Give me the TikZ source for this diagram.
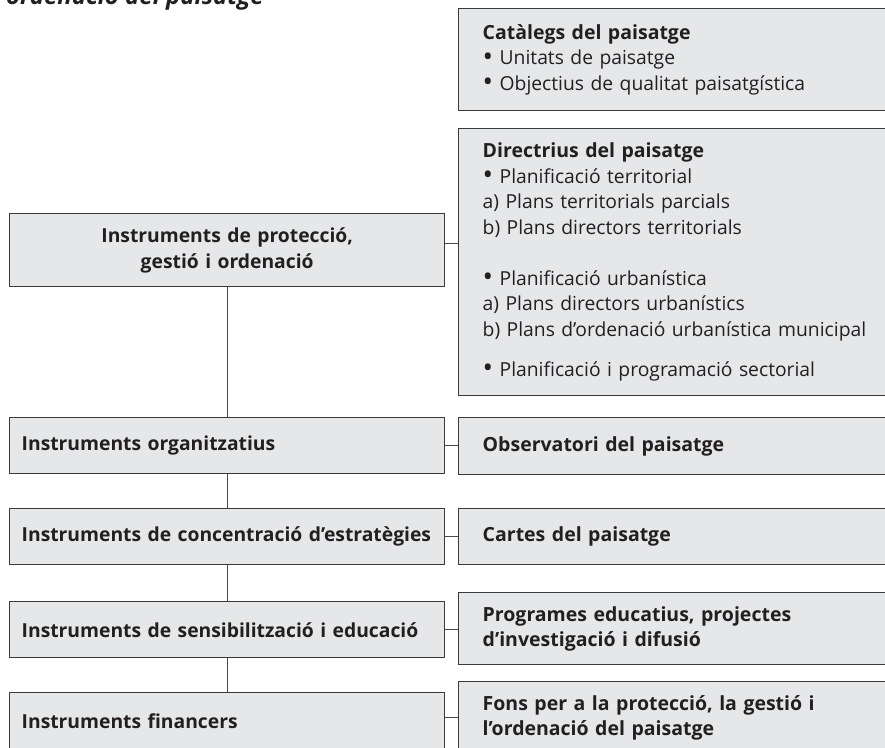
\documentclass[tikz,border=0pt]{standalone}
\usepackage{fontspec}
\setmainfont{Open Sans}
\definecolor{boxfill}{HTML}{E6E7E8}
\definecolor{boxline}{HTML}{3A3A3A}
\definecolor{linkcol}{HTML}{4A4A4A}
\definecolor{txt}{HTML}{231F20}
\newcommand{\bul}{\raisebox{-0.06em}{\scalebox{1.45}{•}}}
\begin{document}
\begin{tikzpicture}[x=1pt,y=-1pt,
  box/.style={draw=boxline, fill=boxfill, line width=1.4pt, rectangle, inner ysep=0pt, anchor=north west, text=txt},
  lbox/.style={box, minimum width=435pt, inner xsep=12pt, text width=411pt, align=left, font=\fontsize{19.3}{25.5}\selectfont\bfseries},
  rbox/.style={box, minimum width=440pt, inner xsep=24pt, text width=392pt, align=left, font=\fontsize{19.3}{25.5}\selectfont},
  rbold/.style={rbox, font=\fontsize{19.5}{25.5}\selectfont\bfseries},
  link/.style={draw=linkcol, line width=1pt}]
\useasboundingbox (0,0) rectangle (885,747);
\clip (0,0) rectangle (885,747);
\fill[white] (0,0) rectangle (885,747);
% title (cut at top)
\node[anchor=base west, inner sep=0pt, text=txt, font=\fontsize{24}{28}\selectfont\bfseries\itshape] (title) at (6,4.5) {ordenació del paisatge};
% left column
\node[lbox, minimum height=73pt, align=center] (prot) at (9,213) {Instruments de protecció,\\ gestió i ordenació};
\node[lbox, minimum height=56pt] (org) at (9,417) {Instruments organitzatius};
\node[lbox, minimum height=56pt] (conc) at (9,508) {Instruments de concentració d’estratègies};
\node[lbox, minimum height=56pt] (sens) at (9,601) {Instruments de sensibilització i educació};
\node[lbox, minimum height=56pt] (fin) at (9,692) {Instruments financers};
% right column
\node[rbox, minimum height=102pt] (cat) at (458,8) {{\fontsize{19.5}{25.5}\selectfont\bfseries Catàlegs del paisatge}\\ \bul{} Unitats de paisatge\\ \bul{} Objectius de qualitat paisatgística};
\node[rbox, minimum height=267pt] (dir) at (458,128) {{\fontsize{19.5}{25.5}\selectfont\bfseries Directrius del paisatge}\\ \bul{} Planificació territorial\\ a) Plans territorials parcials\\ b) Plans directors territorials\\[25.5pt] \bul{} Planificació urbanística\\ a) Plans directors urbanístics\\ b) Plans d’ordenació urbanística municipal\\[15pt] \bul{} Planificació i programació sectorial};
\node[rbold, minimum height=57pt] (obs) at (458,417) {Observatori del paisatge};
\node[rbold, minimum height=56pt] (cartes) at (458,508) {Cartes del paisatge};
\node[rbold, minimum height=72pt] (prog) at (458,592) {Programes educatius, projectes\\ d’investigació i difusió};
\node[rbold, minimum height=72pt] (fons) at (458,681) {Fons per a la protecció, la gestió i\\ l’ordenació del paisatge};
% connectors
\coordinate (c1) at (0,243);
\draw[link] (prot.east |- c1) -- (dir.west |- c1);
\draw[link] (prot.south) -- (org.north);
\draw[link] (org.south) -- (conc.north);
\draw[link] (conc.south) -- (sens.north);
\draw[link] (sens.south) -- (fin.north);
\draw[link] (org.east) -- (org.east -| obs.west);
\draw[link] (conc.east) -- (conc.east -| cartes.west);
\draw[link] (sens.east) -- (sens.east -| prog.west);
\coordinate (c2) at (0,717);
\draw[link] (fin.east |- c2) -- (fons.west |- c2);
\end{tikzpicture}
\end{document}
